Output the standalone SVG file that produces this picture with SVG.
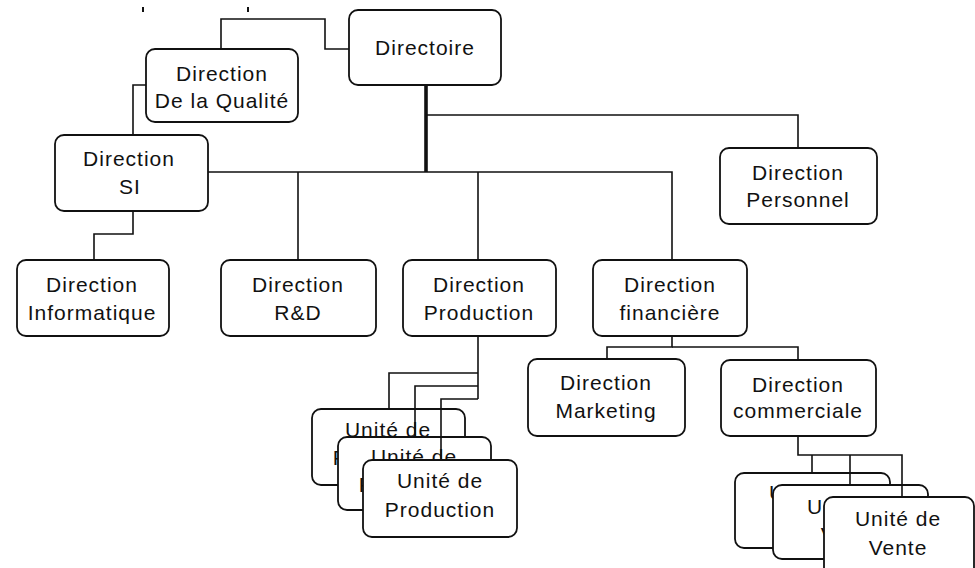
<svg xmlns="http://www.w3.org/2000/svg" width="975" height="568" viewBox="0 0 975 568">
  <style>
    .box { fill: #fff; stroke: #111; stroke-width: 1.8; }
    .t { font-family: "Liberation Sans", Arial, sans-serif; font-size: 21px; letter-spacing: 1px; text-anchor: middle; fill: #111; }
    .link { fill: none; stroke: #111; stroke-width: 1.6; }
    .trunk { fill: none; stroke: #111; stroke-width: 3.6; }
  </style>
  <rect width="975" height="568" fill="#fff"/>

  <!-- small marks along the top edge -->
  <rect x="142" y="7" width="2" height="5" fill="#111"/>
  <rect x="247" y="7" width="2" height="5" fill="#111"/>

  <g id="directoire">
    <rect class="box" x="349" y="10" width="152" height="75" rx="9"/>
    <text class="t" x="425" y="55">Directoire</text>
  </g>
  <g id="qualite">
    <rect class="box" x="146" y="49" width="152" height="73" rx="9"/>
    <text class="t" x="222" y="81">Direction</text>
    <text class="t" x="222" y="108">De la Qualité</text>
  </g>
  <g id="si">
    <rect class="box" x="55" y="135" width="153" height="76" rx="9"/>
    <text class="t" x="129" y="166">Direction</text>
    <text class="t" x="130" y="194">SI</text>
  </g>
  <g id="personnel">
    <rect class="box" x="720" y="148" width="157" height="76" rx="9"/>
    <text class="t" x="798" y="180">Direction</text>
    <text class="t" x="798" y="207">Personnel</text>
  </g>
  <g id="informatique">
    <rect class="box" x="17" y="260" width="152" height="76" rx="9"/>
    <text class="t" x="92" y="292">Direction</text>
    <text class="t" x="92" y="320">Informatique</text>
  </g>
  <g id="rd">
    <rect class="box" x="221" y="260" width="155" height="76" rx="9"/>
    <text class="t" x="298" y="292">Direction</text>
    <text class="t" x="298" y="320">R&amp;D</text>
  </g>
  <g id="production">
    <rect class="box" x="403" y="260" width="153" height="76" rx="9"/>
    <text class="t" x="479" y="292">Direction</text>
    <text class="t" x="479" y="320">Production</text>
  </g>
  <g id="financiere">
    <rect class="box" x="593" y="260" width="154" height="76" rx="9"/>
    <text class="t" x="670" y="292">Direction</text>
    <text class="t" x="670" y="320">financière</text>
  </g>
  <g id="marketing">
    <rect class="box" x="528" y="359" width="157" height="77" rx="9"/>
    <text class="t" x="606" y="390">Direction</text>
    <text class="t" x="606" y="418">Marketing</text>
  </g>
  <g id="commerciale">
    <rect class="box" x="721" y="360" width="155" height="76" rx="9"/>
    <text class="t" x="798" y="392">Direction</text>
    <text class="t" x="798" y="418">commerciale</text>
  </g>

  <!-- stacked production units -->
  <g id="unite-production-1">
    <rect class="box" x="312" y="409" width="153" height="76" rx="9"/>
    <text class="t" x="388" y="437">Unité de</text>
    <text class="t" x="388" y="465">Production</text>
  </g>
  <g id="unite-production-2">
    <rect class="box" x="338" y="437" width="153" height="73" rx="9"/>
    <text class="t" x="414" y="464">Unité de</text>
    <text class="t" x="414" y="492">Production</text>
  </g>
  <g id="unite-production-3">
    <rect class="box" x="363" y="460" width="154" height="77" rx="9"/>
    <text class="t" x="440" y="488">Unité de</text>
    <text class="t" x="440" y="517">Production</text>
  </g>

  <!-- stacked sales units -->
  <g id="unite-vente-1">
    <rect class="box" x="735" y="473" width="155" height="75" rx="9"/>
    <text class="t" x="812" y="500">Unité de</text>
    <text class="t" x="812" y="528">Vente</text>
  </g>
  <g id="unite-vente-2">
    <rect class="box" x="773" y="485" width="155" height="74" rx="9"/>
    <text class="t" x="850" y="514">Unité de</text>
    <text class="t" x="850" y="542">Vente</text>
  </g>
  <g id="unite-vente-3">
    <rect class="box" x="824" y="497" width="150" height="80" rx="9"/>
    <text class="t" x="898" y="526">Unité de</text>
    <text class="t" x="898" y="555">Vente</text>
  </g>

  <g id="connectors">
    <path class="trunk" d="M426 85 V172"/>
    <path class="link" d="M349 49 H325 V19 H221 V49"/>
    <path class="link" d="M146 85 H133 V135"/>
    <path class="link" d="M426 115 H798 V148"/>
    <path class="link" d="M208 172 H672 V260"/>
    <path class="link" d="M298 172 V260"/>
    <path class="link" d="M478 172 V260"/>
    <path class="link" d="M133 211 V234 H94 V260"/>
    <path class="link" d="M672 336 V347 H607 V359"/>
    <path class="link" d="M672 347 H798 V360"/>
    <path class="link" d="M478 336 V399"/>
    <path class="link" d="M478 373 H389 V409"/>
    <path class="link" d="M478 386 H415 V437"/>
    <path class="link" d="M478 399 H441 V460"/>
    <path class="link" d="M798 436 V455 H902 V497"/>
    <path class="link" d="M812 455 V473"/>
    <path class="link" d="M850 455 V485"/>
  </g>
</svg>
